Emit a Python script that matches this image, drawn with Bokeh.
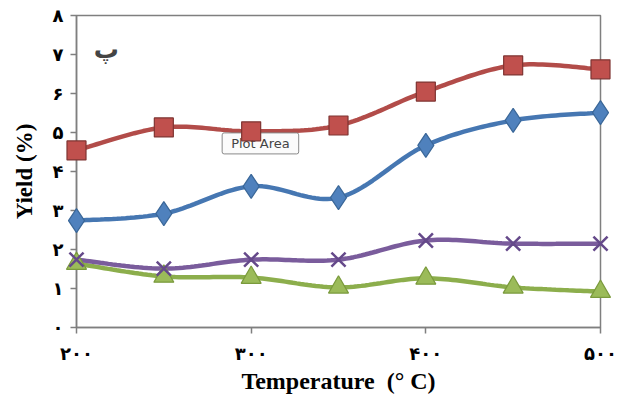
import numpy as np
from bokeh.plotting import figure
from bokeh.models import Range1d, FixedTicker, Label
from bokeh.embed import file_html
from bokeh.resources import INLINE

# ---- data ----
temperature = [200, 250, 300, 350, 400, 450, 500]
yield_red = [4.54, 5.13, 5.03, 5.18, 6.05, 6.72, 6.62]
yield_blue = [2.74, 2.92, 3.62, 3.33, 4.67, 5.31, 5.51]
yield_purple = [1.74, 1.51, 1.74, 1.74, 2.23, 2.15, 2.15]
yield_green = [1.64, 1.31, 1.28, 1.03, 1.26, 1.03, 0.92]

x_ticks = [200, 300, 400, 500]
x_tick_labels = ["۲۰۰", "۳۰۰", "۴۰۰", "۵۰۰"]
y_ticks = [0, 1, 2, 3, 4, 5, 6, 7, 8]
y_tick_labels = ["۰", "۱", "۲", "۳", "۴", "۵", "۶", "۷", "۸"]


def smooth(xs, ys, n=24):
    """Catmull-Rom style smoothing through the given points (rendering only)."""
    P = np.column_stack([np.asarray(xs, float), np.asarray(ys, float)])
    out = []
    m = len(P)
    t = np.linspace(0, 1, n)[:, None]
    for i in range(m - 1):
        p0 = P[i - 1] if i > 0 else P[i]
        p1 = P[i]
        p2 = P[i + 1]
        p3 = P[i + 2] if i + 2 < m else P[i + 1]
        c1 = p1 + (p2 - p0) / 6.0
        c2 = p2 - (p3 - p1) / 6.0
        seg = ((1 - t) ** 3) * p1 + 3 * ((1 - t) ** 2) * t * c1 + 3 * (1 - t) * t ** 2 * c2 + t ** 3 * p2
        out.append(seg if i == 0 else seg[1:])
    arr = np.vstack(out)
    return arr[:, 0], arr[:, 1]


p = figure(
    frame_width=524, frame_height=312,
    x_range=Range1d(x_ticks[0], x_ticks[-1]),
    y_range=Range1d(y_ticks[0], y_ticks[-1]),
    output_backend="svg", toolbar_location=None,
    min_border_left=76, min_border_right=17, min_border_top=15, min_border_bottom=60,
    background_fill_color="white", border_fill_color="white",
)
p.grid.visible = False
p.outline_line_color = "#7f7f7f"
p.outline_line_width = 1.5

serif = "Liberation Serif"
digits_font = "DejaVu Sans"

for ax in (p.xaxis[0], p.yaxis[0]):
    ax.axis_line_color = "#7f7f7f"
    ax.axis_line_width = 1.5
    ax.major_tick_line_color = "#7f7f7f"
    ax.major_tick_line_width = 1.5
    ax.major_tick_in = 0
    ax.major_tick_out = 6
    ax.minor_tick_line_color = None
    ax.major_label_text_font = digits_font
    ax.major_label_text_font_style = "bold"
    ax.major_label_text_font_size = "18px"
    ax.major_label_text_color = "black"
    ax.axis_label_text_font = serif
    ax.axis_label_text_font_style = "bold"
    ax.axis_label_text_font_size = "23px"
    ax.axis_label_text_color = "black"

p.xaxis.ticker = FixedTicker(ticks=x_ticks)
p.xaxis.major_label_overrides = dict(zip(x_ticks, x_tick_labels))
p.xaxis.major_label_standoff = 9
p.xaxis.axis_label = "Temperature\u00a0\u00a0(°\u00a0C)"
p.xaxis.axis_label_text_font_size = "24px"
p.xaxis.axis_label_standoff = 1

p.yaxis.ticker = FixedTicker(ticks=y_ticks)
p.yaxis.major_label_overrides = dict(zip(y_ticks, y_tick_labels))
p.yaxis.major_label_orientation = "horizontal"
p.yaxis.major_label_standoff = 7
p.yaxis.axis_label = "Yield (%)"
p.yaxis.axis_label_standoff = 13

series = [
    (yield_green, "#9bbb59", "#7a9a3c", "triangle", 20),
    (yield_purple, "#7d60a0", "#65498a", "x", 20),
    (yield_blue, "#4f81bd", "#3a6798", "diamond", 24),
    (yield_red, "#c0504d", "#7f3432", "square", 19),
]

line_colors = {"triangle": "#8cae4c", "x": "#7a5c9c", "diamond": "#4677b2", "square": "#b24c49"}

for ys, fill, edge, marker, size in series:
    sx, sy = smooth(temperature, ys)
    p.line(sx, sy, line_color=line_colors[marker], line_width=4.5)
for ys, fill, edge, marker, size in series:
    if marker == "x":
        r = p.scatter(temperature, ys, marker="x", size=size, line_color=edge, line_width=2.5)
    else:
        r = p.scatter(temperature, ys, marker=marker, size=size, fill_color=fill,
                      line_color=edge, line_width=1.2)
    r.level = "overlay"

p.add_layout(Label(x=217, y=7.12, text="پ", text_font=digits_font, text_font_style="bold",
                   text_font_size="25px", text_align="center", text_baseline="middle"))

p.add_layout(Label(x=305.3, y=4.72, text="Plot Area", text_font="DejaVu Sans",
                   text_font_size="13px", text_align="center", text_baseline="middle",
                   background_fill_color="#fbfbfb", border_line_color="#8a8a8a",
                   border_line_width=1, padding=(9, 3), border_radius=2))

open("out.html", "w").write(file_html(p, INLINE))
